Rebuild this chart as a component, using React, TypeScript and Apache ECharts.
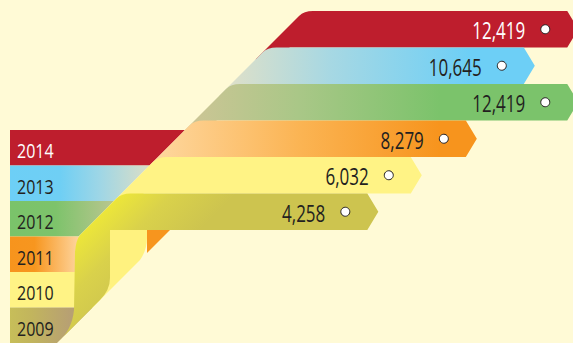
import React, { useEffect, useRef } from "react";
import * as echarts from "echarts";

const years = ["2014", "2013", "2012", "2011", "2010", "2009"];
const values = [12419, 10645, 12419, 8279, 6032, 4258];
const axisMax = 12000;

const LINE_A = 315; // x + y on the upper fold line
const LINE_B = 400; // x + y on the lower fold line
const ROW_TOP = 130;
const ROW_H = 35.5;
const ROW_LEFT = 10;
const DEPTH = 11;
const FONT = "'Open Sans', 'Noto Sans', sans-serif";
const DARK = "#231F20";

function hGrad(x1: number, x2: number, stops: [number, string][]) {
  return new echarts.graphic.LinearGradient(
    x1, 0, x2, 0,
    stops.map(([o, c]) => ({ offset: o, color: c })),
    true
  );
}

const rowFills: any[] = [
  "#BE1E2D",
  hGrad(10, 150, [[0, "#6DCFF6"], [0.36, "#6FCFF4"], [0.64, "#9ED6E6"], [1, "#DCDEC6"]]),
  hGrad(10, 118, [[0, "#7AC36A"], [0.42, "#7DC36B"], [1, "#BEC692"]]),
  hGrad(10, 80, [[0, "#F7941D"], [0.35, "#F7961F"], [1, "#FED7A2"]]),
  "#FFF385",
  hGrad(10, 70, [[0, "#C7BE59"], [0.35, "#C2B55D"], [1, "#B7A073"]]),
];

const barFills: any[] = [
  "#BE1E2D",
  hGrad(215, 470, [[0, "#E6E1C5"], [0.45, "#A7D8E3"], [1, "#6DCFF6"]]),
  hGrad(185, 440, [[0, "#CEC596"], [0.45, "#A9C787"], [1, "#7BC36B"]]),
  hGrad(160, 440, [[0, "#FED69C"], [0.5, "#FBB453"], [1, "#F7941D"]]),
  "#FFF385",
];

const oliveFill = new echarts.graphic.LinearGradient(
  157.5, 157.5, 215, 215,
  [
    { offset: 0, color: "#ECE63A" },
    { offset: 0.45, color: "#D9D14B" },
    { offset: 1, color: "#CDC44F" },
  ],
  true
);

function renderItem(params: any, api: any) {
  const idx = api.value(1) as number;
  const val = api.value(0) as number;
  const pt = api.coord([val, idx]);
  const tip = pt[0];
  const cy = pt[1];
  const bh = api.size([0, 1])[1];
  const R = cy - bh / 2;
  const Bt = cy + bh / 2;
  const T = ROW_TOP + ROW_H * idx;
  const TB = T + ROW_H;
  const A = LINE_A;
  const B = LINE_B;
  const children: any[] = [];

  // left row
  let rowPath = "";
  if (idx <= 2) {
    rowPath = `M${ROW_LEFT},${T}L${A - T},${T}L${A - TB},${TB}L${ROW_LEFT},${TB}Z`;
  } else if (idx === 3) {
    rowPath = `M${ROW_LEFT},${T}L100,${T}L100,${TB}L${ROW_LEFT},${TB}Z`;
  } else if (idx === 4) {
    rowPath = `M${ROW_LEFT},${T}L110,${T}L110,${B - 110}L${B - TB},${TB}L${ROW_LEFT},${TB}Z`;
  } else {
    rowPath = `M${ROW_LEFT},${T}L${B - T},${T}L${B - TB},${TB}L${ROW_LEFT},${TB}Z`;
  }
  children.push({ type: "path", shape: { pathData: rowPath }, style: { fill: rowFills[idx] } });

  // vertical strips (only their lower ends show below the ribbons)
  if (idx === 3) {
    children.push({
      type: "path",
      shape: { pathData: `M147,229L190,229L190,${B - 190}L147,${B - 147}Z` },
      style: { fill: "#F7951E" },
    });
  }
  if (idx === 4) {
    children.push({
      type: "path",
      shape: { pathData: `M110,229L147,229L147,238Q147,250 140,260L110,290Z` },
      style: { fill: "#FFF27F" },
    });
  }

  // right ribbon
  if (idx < 5) {
    const ext = 12;
    const p =
      `M${A - R + 9},${R}L${tip - DEPTH},${R}L${tip},${cy}L${tip - DEPTH},${Bt}` +
      `L${A - Bt + 22},${Bt}L${A - Bt + 22},${Bt + ext}L${A - Bt - ext},${Bt + ext}` +
      `L${A - R - 5},${R + 5}Q${A - R},${R} ${A - R + 9},${R}Z`;
    children.push({ type: "path", shape: { pathData: p }, style: { fill: barFills[idx] } });
  } else {
    const p =
      `M${A - R + 9},${R}L${tip - DEPTH},${R}L${tip},${cy}L${tip - DEPTH},${Bt}` +
      `L110,${Bt}L110,278Q110,290 100,300L58,342Q72,330 74,310L75,252Q76,240 80,235` +
      `L${A - R - 5},${R + 5}Q${A - R},${R} ${A - R + 9},${R}Z`;
    children.push({ type: "path", shape: { pathData: p }, style: { fill: oliveFill } });
  }

  // year label
  children.push({
    type: "text",
    x: 17,
    y: T + ROW_H / 2 + 3,
    scaleX: 0.8,
    style: {
      text: years[idx],
      x: 0,
      y: 0,
      fill: idx === 0 ? "#FFFFFF" : DARK,
      font: `20px ${FONT}`,
      align: "left",
      verticalAlign: "middle",
    },
  });
  // value label
  children.push({
    type: "text",
    x: tip - 53,
    y: cy + 1,
    scaleX: 0.74,
    style: {
      text: val.toLocaleString("en-US"),
      x: 0,
      y: 0,
      fill: idx === 0 ? "#FFFFFF" : DARK,
      font: `23px ${FONT}`,
      align: "right",
      verticalAlign: "middle",
    },
  });
  children.push({
    type: "circle",
    shape: { cx: tip - 33, cy: cy, r: 4.5 },
    style: { fill: "#FFFFFF", stroke: DARK, lineWidth: 1 },
  });

  return { type: "group", children };
}

export default function App() {
  const ref = useRef<HTMLDivElement>(null);
  useEffect(() => {
    if (!ref.current) return;
    const chart = echarts.init(ref.current, undefined, { renderer: "svg" });
    chart.setOption({
      animation: false,
      backgroundColor: "#FFFAD6",
      grid: { left: 274, top: 11, width: 294, height: 219 },
      xAxis: { type: "value", min: 0, max: axisMax, show: false },
      yAxis: { type: "category", data: years, inverse: true, show: false },
      series: [
        {
          type: "custom",
          clip: false,
          renderItem,
          encode: { x: 0, y: 1 },
          data: values.map((v, i) => [v, i]),
        },
      ],
    });
    return () => chart.dispose();
  }, []);
  return (
    <div
      ref={ref}
      style={{ position: "fixed", left: 0, top: 0, width: 573, height: 343 }}
    />
  );
}
